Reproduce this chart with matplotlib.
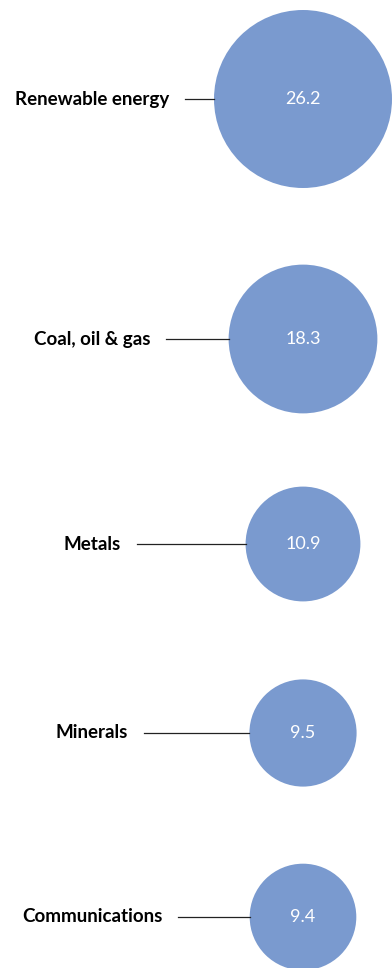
import numpy as np
import matplotlib
matplotlib.use("Agg")
import matplotlib.pyplot as plt
from matplotlib.patches import Circle

# data
categories = ["Renewable energy", "Coal, oil & gas", "Metals", "Minerals", "Communications"]
values = [26.2, 18.3, 10.9, 9.5, 9.4]

# layout (pixels)
W, H = 392, 968
center_x = 303
center_y = [99, 339, 544, 733, 917]
max_r = 89
label_x = 92
color = "#7a9acf"

fig = plt.figure(figsize=(W / 100, H / 100), dpi=100)
ax = fig.add_axes([0, 0, 1, 1])
ax.set_xlim(0, W)
ax.set_ylim(H, 0)
ax.set_aspect("equal")
ax.axis("off")

fig.canvas.draw()
renderer = fig.canvas.get_renderer()

for cat, v, cy in zip(categories, values, center_y):
    r = max_r * np.sqrt(v / max(values))
    ax.add_patch(Circle((center_x, cy), r, color=color, lw=0))
    ax.text(center_x, cy, f"{v:.1f}", color="white", fontsize=13,
            family="Lato", fontweight="normal", ha="center", va="center")
    t = ax.text(label_x, cy, cat, fontsize=13.5, family="Lato",
                fontweight="bold", ha="center", va="center", color="black")
    bb = t.get_window_extent(renderer)
    x_end = bb.x1 + 16
    ax.plot([x_end, center_x - r], [cy, cy], color="#222222", lw=0.9)

fig.savefig("out.png", dpi=100)
